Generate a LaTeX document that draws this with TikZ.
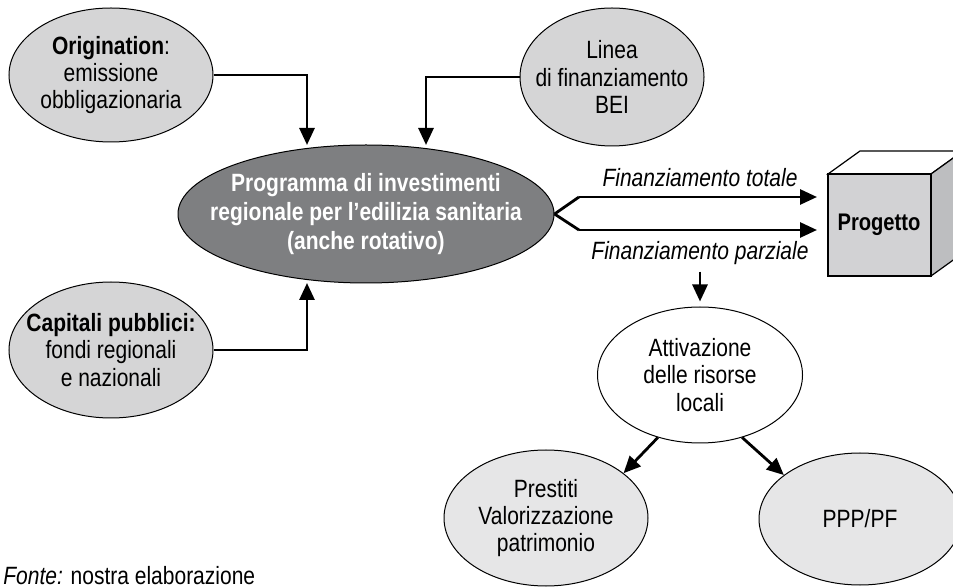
\documentclass[tikz,border=0pt]{standalone}
\usepackage{fontspec}
\setmainfont{Liberation Sans}[FakeStretch=0.84]
\usetikzlibrary{arrows.meta,shapes.geometric}

\definecolor{grigiochiaro}{HTML}{D5D5D6}
\definecolor{grigiopallido}{HTML}{E6E6E7}
\definecolor{grigioscuro}{HTML}{7E7F81}
\definecolor{facciata}{HTML}{D2D2D4}
\definecolor{fianco}{HTML}{BDBEC0}

\begin{document}
\begin{tikzpicture}[x=0.5pt,y=-0.5pt,
    every node/.style={font=\fontsize{12.5}{13.7}\selectfont, align=center},
    bolla/.style={ellipse, draw, line width=0.5pt, inner xsep=-14pt, inner ysep=0pt},
    conn/.style={line width=1.4pt, -{Triangle[length=8.5pt,width=7.5pt]}},
    linea/.style={line width=1.4pt}]
        \useasboundingbox (0,0) rectangle (953,587);
        \clip (0,0) rectangle (953,587);

        % ellissi di partenza
        \node[bolla, fill=grigiochiaro, minimum width=102pt, minimum height=67pt] (orig) at (111,75)
            {\textbf{Origination}:\\emissione\\obbligazionaria};
        \node[bolla, fill=grigiochiaro, minimum width=92pt, minimum height=69pt] (bei) at (612,77)
            {Linea\\di finanziamento\\BEI};
        \node[bolla, fill=grigiochiaro, minimum width=102pt, minimum height=68pt] (cap) at (111,350)
            {\textbf{Capitali pubblici:}\\fondi regionali\\e nazionali};

        % programma centrale
        \node[bolla, fill=grigioscuro, minimum width=188pt, minimum height=69pt,
              text=white, font=\fontsize{12.5}{14.3}\selectfont\bfseries] (prog) at (366,214)
            {Programma di investimenti\\regionale per l’edilizia sanitaria\\(anche rotativo)};

        % progetto (cubo)
        \filldraw[fill=white, line width=0.6pt] (828,174) -- (860,151) -- (963,151) -- (931,174) -- cycle;
        \filldraw[fill=fianco, line width=0.6pt] (931,174) -- (963,151) -- (963,253) -- (931,276) -- cycle;
        \filldraw[fill=facciata, line width=0.6pt] (828,174) rectangle (931,276);
        \node[font=\fontsize{12}{14}\selectfont\bfseries] (progetto) at (879,225) {Progetto};

        % finanziamenti
        \coordinate (altoA) at (579,197);
        \coordinate (bassoA) at (579,230);
        \coordinate (altoB) at (817,197);
        \coordinate (bassoB) at (817,230);
        \draw[linea] (prog.east) -- (altoA);
        \draw[linea] (prog.east) -- (bassoA);
        \draw[conn] (altoA) -- (altoB);
        \draw[conn] (bassoA) -- (bassoB);
        \node[font=\fontsize{12.5}{13.7}\selectfont\itshape] (tot) at (700,178) {Finanziamento totale};
        \node[font=\fontsize{12.5}{13.7}\selectfont\itshape] (parz) at (700,253) {Finanziamento parziale};

        % risorse locali
        \node[bolla, fill=white, minimum width=102.5pt, minimum height=68pt] (attiv) at (700,375)
            {Attivazione\\delle risorse\\locali};
        \node[bolla, fill=grigiopallido, minimum width=102pt, minimum height=68pt] (prest) at (546,518)
            {Prestiti\\Valorizzazione\\patrimonio};
        \node[bolla, fill=grigiopallido, minimum width=101pt, minimum height=66pt] (ppp) at (860,519)
            {PPP/PF};

        % frecce
        \coordinate (pA) at (307,145);
        \coordinate (pB) at (426,145);
        \coordinate (pC) at (307,283);
        \draw[conn] (orig.east) -| (pA);
        \draw[conn] (bei.west) -| (pB);
        \draw[conn] (cap.east) -| (pC);
        \draw[conn, shorten >=2.5pt] (parz.south) -- (attiv.north);
        \draw[conn] (attiv.236) -- (prest.30);
        \draw[conn] (attiv.304) -- (ppp.150);

        \node[anchor=base west, inner sep=0pt] (fonte) at (3,584) {\textit{Fonte:} nostra elaborazione};
    \end{tikzpicture}
\end{document}
